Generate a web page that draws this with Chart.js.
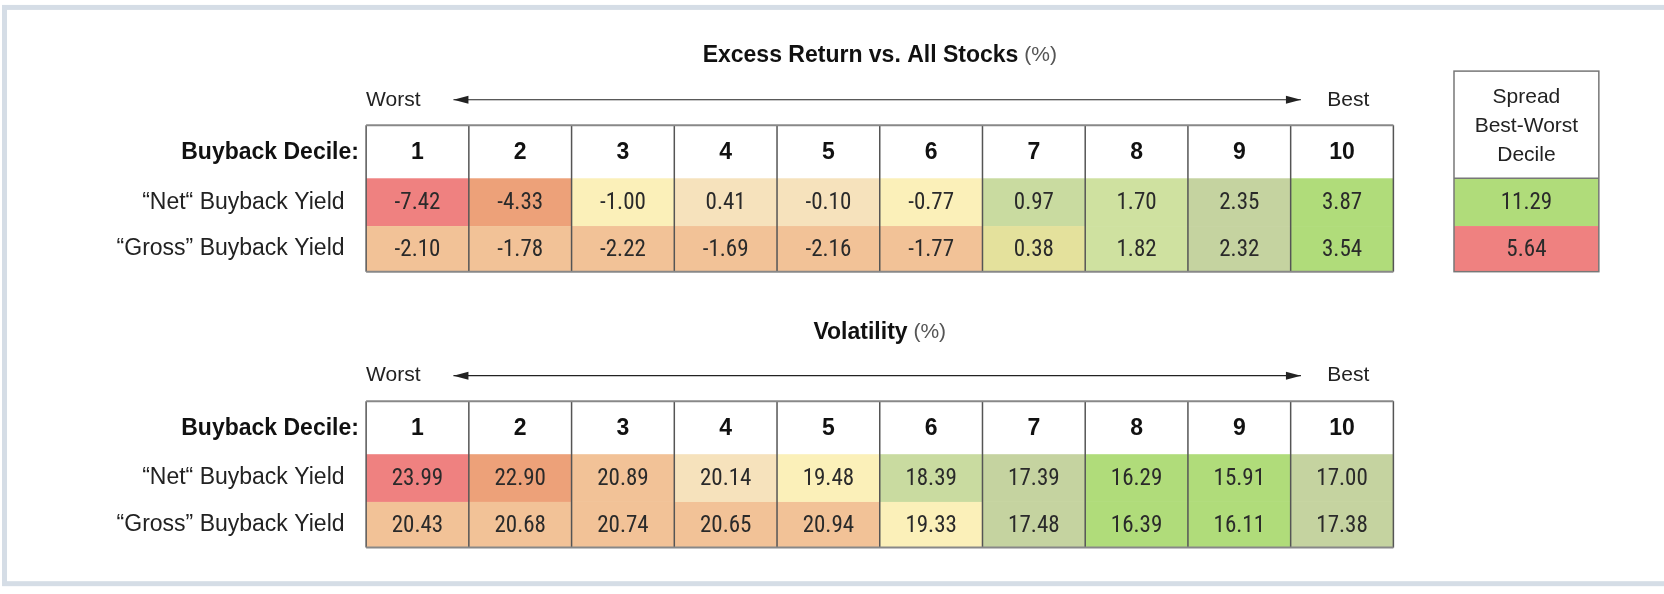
<!DOCTYPE html>
<html><head><meta charset="utf-8">
<script src="https://cdn.jsdelivr.net/npm/chart.js@4"></script>
<style>html,body{margin:0;padding:0;background:#fff}canvas{display:block}</style>
</head><body>
<canvas id="c" width="1664" height="594"></canvas>
<script>
const deciles = ["1","2","3","4","5","6","7","8","9","10"];
const rowLabels = ["\u201cNet\u201c Buyback Yield", "\u201cGross\u201d Buyback Yield"];
const returnNet = [-7.42,-4.33,-1.00,0.41,-0.10,-0.77,0.97,1.70,2.35,3.87];
const returnGross = [-2.10,-1.78,-2.22,-1.69,-2.16,-1.77,0.38,1.82,2.32,3.54];
const spread = [11.29,5.64];
const volNet = [23.99,22.90,20.89,20.14,19.48,18.39,17.39,16.29,15.91,17.00];
const volGross = [20.43,20.68,20.74,20.65,20.94,19.33,17.48,16.39,16.11,17.38];

// colour styles (separate from data)
const C = {red:"#ef8180",dor:"#eda179",lor:"#f2c297",pye:"#fbf0b9",pea:"#f6e2bc",gp:"#c9dba0",gl:"#cfe1a0",go:"#c5d3a0",gb:"#b0dc7a",yg:"#e4e19c"};
const colReturnNet=[C.red,C.dor,C.pye,C.pea,C.pea,C.pye,C.gp,C.gl,C.go,C.gb];
const colReturnGross=[C.lor,C.lor,C.lor,C.lor,C.lor,C.lor,C.yg,C.gl,C.go,C.gb];
const colSpread=[C.gb,C.red];
const colVolNet=[C.red,C.dor,C.lor,C.pea,C.pye,C.gp,C.go,C.gb,C.gb,C.go];
const colVolGross=[C.lor,C.lor,C.lor,C.lor,C.lor,C.pye,C.go,C.gb,C.gb,C.go];

const K=1664/1568;
const NARROW='"Liberation Sans Narrow","Roboto Condensed","Liberation Sans",sans-serif';
const SANS='"Liberation Sans",Arial,sans-serif';
const F=(px,fam,b)=>(b?"bold ":"")+Math.round(px*K)+"px "+fam;

const tablePlugin={id:'tbl',afterDraw(chart){
  const ctx=chart.ctx, xs=chart.scales.x, ys=chart.scales.y;
  const X=v=>xs.getPixelForValue(v), Y=v=>ys.getPixelForValue(v);
  ctx.save();
  ctx.strokeStyle="#d5dde6";ctx.lineWidth=5;
  ctx.strokeRect(X(-3.52),Y(7),X(13.55)-X(-3.52),Y(550)-Y(7));
  function arrowRow(yv){
    ctx.fillStyle="#222";ctx.font=F(20,SANS);ctx.textBaseline="middle";
    ctx.textAlign="left";ctx.fillText("Worst",X(0),Y(yv));
    ctx.textAlign="right";ctx.fillText("Best",X(10)-24,Y(yv));
    ctx.strokeStyle="#222";ctx.lineWidth=1.2;
    const a=X(0.85),b=X(9.1);
    ctx.beginPath();ctx.moveTo(a,Y(yv));ctx.lineTo(b,Y(yv));ctx.stroke();
    ctx.beginPath();ctx.moveTo(a,Y(yv));ctx.lineTo(a+15,Y(yv)-4);ctx.lineTo(a+15,Y(yv)+4);ctx.closePath();ctx.fill();
    ctx.beginPath();ctx.moveTo(b,Y(yv));ctx.lineTo(b-15,Y(yv)-4);ctx.lineTo(b-15,Y(yv)+4);ctx.closePath();ctx.fill();
  }
  function title(yv,bold,rest){
    ctx.font=F(22,SANS,1);const w1=ctx.measureText(bold).width;
    ctx.font=F(20,SANS);const w2=ctx.measureText(rest).width;
    const cx=(X(0)+X(10))/2, s=cx-(w1+w2)/2;
    ctx.textAlign="left";ctx.textBaseline="middle";ctx.fillStyle="#111";
    ctx.font=F(22,SANS,1);ctx.fillText(bold,s,Y(yv));
    ctx.fillStyle="#555";ctx.font=F(20,SANS);ctx.fillText(rest,s+w1,Y(yv));
  }
  function table(top,vals,cols){
    const h0=top,h1=top+50,r1=h1+45,r2=r1+43;
    const bounds=[[h1,r1],[r1,r2]];
    for(let r=0;r<2;r++)for(let i=0;i<10;i++){
      ctx.fillStyle=cols[r][i];
      ctx.fillRect(X(i),Y(bounds[r][0]),X(i+1)-X(i),Y(bounds[r][1])-Y(bounds[r][0]));
      ctx.fillStyle="#2a2a2a";ctx.font=F(22,NARROW);ctx.textAlign="center";ctx.textBaseline="middle";
      ctx.fillText(vals[r][i].toFixed(2),X(i+0.5),Y((bounds[r][0]+bounds[r][1])/2)+1);
    }
    ctx.strokeStyle="#555";ctx.lineWidth=1.5;
    for(let i=0;i<=10;i++){ctx.beginPath();ctx.moveTo(X(i),Y(h0));ctx.lineTo(X(i),Y(r2));ctx.stroke();}
    ctx.strokeStyle="#888";ctx.lineWidth=2;
    ctx.beginPath();ctx.moveTo(X(0),Y(h0));ctx.lineTo(X(10),Y(h0));ctx.stroke();
    ctx.beginPath();ctx.moveTo(X(0),Y(r2));ctx.lineTo(X(10),Y(r2));ctx.stroke();
    ctx.fillStyle="#111";ctx.font=F(22,SANS,1);ctx.textAlign="center";
    deciles.forEach((d,i)=>ctx.fillText(d,X(i+0.5),Y((h0+h1)/2)+1));
    ctx.textAlign="right";ctx.fillText("Buyback Decile:",X(-0.07),Y((h0+h1)/2)+1);
    ctx.font=F(22,SANS);ctx.fillStyle="#222";
    ctx.fillText(rowLabels[0],X(-0.21),Y((h1+r1)/2));
    ctx.fillText(rowLabels[1],X(-0.21),Y((r1+r2)/2));
    return bounds;
  }
  title(52,"Excess Return vs. All Stocks"," (%)");
  arrowRow(94);
  const b=table(118,[returnNet,returnGross],[colReturnNet,colReturnGross]);
  const sx0=X(10.59),sx1=X(12.0);
  for(let r=0;r<2;r++){
    ctx.fillStyle=colSpread[r];ctx.fillRect(sx0,Y(b[r][0]),sx1-sx0,Y(b[r][1])-Y(b[r][0]));
    ctx.fillStyle="#2a2a2a";ctx.font=F(22,NARROW);ctx.textAlign="center";
    ctx.fillText(spread[r].toFixed(2),(sx0+sx1)/2,Y((b[r][0]+b[r][1])/2)+1);
  }
  ctx.strokeStyle="#777";ctx.lineWidth=1.5;
  ctx.strokeRect(sx0,Y(67),sx1-sx0,Y(b[1][1])-Y(67));
  ctx.beginPath();ctx.moveTo(sx0,Y(b[0][0]));ctx.lineTo(sx1,Y(b[0][0]));ctx.stroke();
  ctx.fillStyle="#222";ctx.font=F(20,SANS);
  ["Spread","Best-Worst","Decile"].forEach((t,k)=>ctx.fillText(t,(sx0+sx1)/2,Y(92+k*27)));
  title(313,"Volatility"," (%)");
  arrowRow(354);
  table(378,[volNet,volGross],[colVolNet,colVolGross]);
  ctx.restore();
}};

new Chart(document.getElementById('c'),{
  type:'scatter',
  data:{datasets:[{data:[]}]},
  options:{responsive:false,animation:false,devicePixelRatio:1,
    layout:{padding:0},
    plugins:{legend:{display:false},tooltip:{enabled:false}},
    scales:{
      x:{type:'linear',display:false,min:-345/96.8,max:(1568-345)/96.8},
      y:{type:'linear',display:false,min:0,max:594/K,reverse:true}
    }},
  plugins:[tablePlugin]
});
</script>
</body></html>
